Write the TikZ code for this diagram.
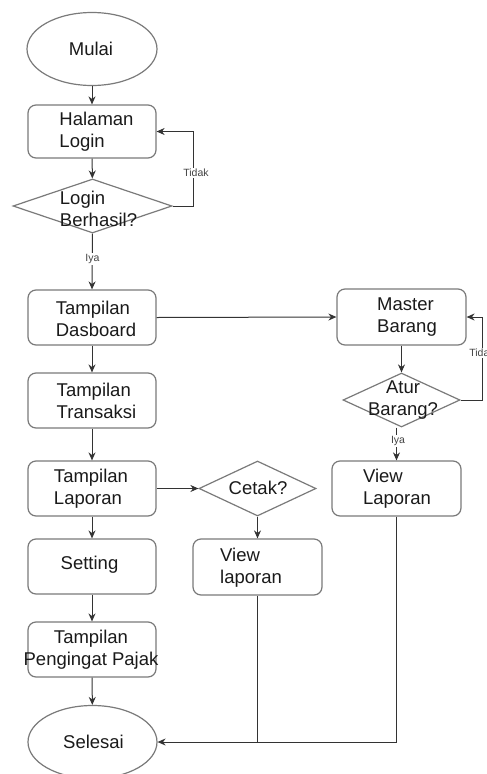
\documentclass[tikz,border=0pt]{standalone}
\usepackage{fontspec}
\setmainfont{Liberation Sans}
\usetikzlibrary{arrows.meta,shapes.geometric}

\definecolor{edgegray}{HTML}{7A7A7A}
\definecolor{linegray}{HTML}{333333}
\definecolor{inkdark}{HTML}{1A1A1A}
\definecolor{labelgray}{HTML}{444444}

\tikzset{
  shapebase/.style={draw=edgegray, line width=1.2pt, inner sep=0pt, fill=white},
  box/.style={shapebase, rectangle, rounded corners=8pt,
              minimum width=128pt, minimum height=55pt},
  oval/.style={shapebase, ellipse, minimum width=130pt, minimum height=73pt},
  decision/.style={shapebase, diamond, minimum width=117pt, minimum height=55pt},
  txt/.style={inner sep=0pt, align=left, text=inkdark,
              font=\fontsize{18.5}{22}\selectfont},
  edgelbl/.style={inner sep=1pt, fill=white, text=labelgray,
                  font=\fontsize{10.5}{12}\selectfont},
  flow/.style={draw=linegray, line width=1pt,
               -{Stealth[length=8pt,width=7pt]}},
  plain/.style={draw=linegray, line width=1pt},
}

\begin{document}
\begin{tikzpicture}[x=1pt, y=-1pt]
  \useasboundingbox[fill=white] (0,0) rectangle (487,774);

  % left column
  \node[oval] (mulai) at (92,49) {};
  \node[box, minimum height=53pt] (hl) at (92,131.5) {};
  \node[decision, minimum width=159pt, minimum height=54pt] (lb) at (92.5,206) {};
  \node[box] (td) at (92,317.5) {};
  \node[box] (tt) at (92,400.5) {};
  \node[box] (tlap) at (92,488.5) {};
  \node[box] (set) at (92,566.5) {};
  \node[box] (tpp) at (92,649.5) {};
  \node[oval, minimum width=129pt] (sel) at (92.5,742) {};

  % middle column
  \node[decision] (cetak) at (257.5,488.5) {};
  \node[box, minimum width=129pt, minimum height=56pt] (vl) at (257.5,567) {};

  % right column
  \node[box, minimum width=129pt, minimum height=56pt] (mb) at (401.5,317) {};
  \node[decision, minimum height=54pt] (atur) at (401.5,400) {};
  \node[box, minimum width=129pt] (vL) at (396.5,488.5) {};

  % texts
  \node[txt] (mulai-t) at (91,48.5) {Mulai};
  \node[txt] (hl-t) at (96.5,132) {Halaman\\Login};
  \node[txt] (lb-t) at (98.5,209) {Login\\Berhasil?};
  \node[txt] (td-t) at (96,318.5) {Tampilan\\Dasboard};
  \node[txt] (tt-t) at (96.5,401) {Tampilan\\Transaksi};
  \node[txt] (tlap-t) at (91,489) {Tampilan\\Laporan};
  \node[txt] (set-t) at (89.5,565) {Setting};
  \node[txt, align=center] (tpp-t) at (91,650) {Tampilan\\Pengingat Pajak};
  \node[txt] (sel-t) at (93.5,742) {Selesai};
  \node[txt] (cetak-t) at (258,488) {Cetak?};
  \node[txt] (vl-t) at (251,567.5) {View\\laporan};
  \node[txt] (mb-t) at (407,317.5) {Master\\Barang};
  \node[txt, align=center] (atur-t) at (403,400) {Atur\\Barang?};
  \node[txt] (vL-t) at (397,488.5) {View\\Laporan};

  % left column flow
  \draw[flow] (mulai) -- (hl);
  \draw[flow] (hl) -- (lb);
  \coordinate (loopA) at (193,206);
  \draw[flow] (lb.east) -- (loopA) |- (hl.east);
  \node[edgelbl] (tidakA) at (196,173) {Tidak};
  \draw[flow] (lb.south) -- (td.north);
  \node[edgelbl] (iyaA) at (92.5,259) {Iya};
  \draw[flow] (td) -- (tt);
  \draw[flow] (tt) -- (tlap);
  \draw[flow] (tlap) -- (set);
  \draw[flow] (set) -- (tpp);
  \draw[flow] (tpp) -- (sel);

  % branch to Master Barang
  \draw[flow] (td.east) -- (mb.west);
  \draw[flow] (mb.south) -- (atur.north);
  \coordinate (loopB) at (482,400);
  \draw[flow] (atur.east) -- (loopB) |- (mb.east);
  \node[edgelbl] (tidakB) at (482,353) {Tidak};
  \draw[flow] (vL.north |- atur.south) -- (vL.north);
  \node[edgelbl] (iyaB) at (398,441) {Iya};

  % report printing branch
  \draw[flow] (tlap.east) -- (cetak.west);
  \draw[flow] (cetak.south) -- (vl.north);

  % back to Selesai
  \draw[plain] (vl.south) -- (vl.south |- sel.east);
  \draw[flow] (vL.south) |- (sel.east);
\end{tikzpicture}
\end{document}
